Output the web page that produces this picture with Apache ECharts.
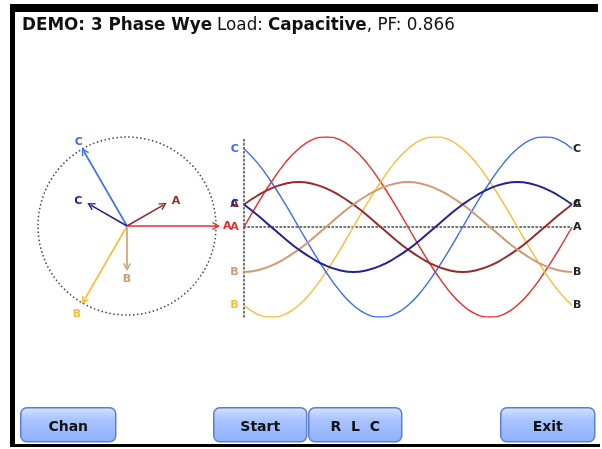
<!DOCTYPE html>
<html>
<head>
<meta charset="utf-8">
<script src="https://cdn.jsdelivr.net/npm/echarts@6/dist/echarts.min.js"></script>
<style>
  html, body { margin: 0; padding: 0; background: #fff; }
  #main { width: 602px; height: 449px; }
</style>
</head>
<body>
<div id="main"></div>
<script>
// phase angle along the waveform window (deg)
var degs = [0,15,30,45,60,75,90,105,120,135,150,165,180,195,210,225,240,255,270,285,300,315,330,345,360];

// voltages (peak ~100)
var vA = [0,26,50,71,87,97,100,97,87,71,50,26,0,-26,-50,-71,-87,-97,-100,-97,-87,-71,-50,-26,0];
var vB = [-87,-97,-100,-97,-87,-71,-50,-26,0,26,50,71,87,97,100,97,87,71,50,26,0,-26,-50,-71,-87];
var vC = [87,71,50,26,0,-26,-50,-71,-87,-97,-100,-97,-87,-71,-50,-26,0,26,50,71,87,97,100,97,87];
// currents (peak ~50)
var iA = [25,35,43,48,50,48,43,35,25,13,0,-13,-25,-35,-43,-48,-50,-48,-43,-35,-25,-13,0,13,25];
var iB = [-50,-48,-43,-35,-25,-13,0,13,25,35,43,48,50,48,43,35,25,13,0,-13,-25,-35,-43,-48,-50];
var iC = [25,13,0,-13,-25,-35,-43,-48,-50,-48,-43,-35,-25,-13,0,13,25,35,43,48,50,48,43,35,25];

// phasors
var phasorNames = ['A','B','C','A','B','C'];
var phasorMag   = [100, 97, 97, 47, 46, 47];
var phasorAngle = [0, 240, 120, 30, 270, 150];
var phasorColor = ['#ee2a2a','#ffbb33','#3a6cff','#992a2a','#d29a6e','#22229a'];
var phasorLabelPos = ['right','bottom','top','right','bottom','left'];
var phasorLabelOff = [[-2,0],[-7,-3],[-5,7],[-2,-4],[0,-2],[2,-4]];

var waveNames  = ['A','B','C','A','B','C'];
var waveValues = [vA, vB, vC, iA, iB, iC];
var waveColor  = ['#ee2a2a','#ffbb33','#3a6cff','#992a2a','#d29a6e','#22229a'];
var waveWidth  = [1.4, 1.4, 1.4, 2, 2, 2];

var myChart = echarts.init(document.getElementById('main'));
var arrowPath = 'path://M0,8 L5,0 L10,8 L8.6,9 L5,3.4 L1.4,9 Z';
var dotted = { color: '#444', type: [1.5, 2.5], width: 1.5 };

var series = [];

phasorNames.forEach(function(name, i){
	series.push({
		type: 'line',
		coordinateSystem: 'polar',
		silent: true,
		animation: false,
		lineStyle: { color: phasorColor[i], width: 1.6 },
		itemStyle: { color: phasorColor[i] },
		data: [
			{ value: [0, phasorAngle[i]], symbol: 'none' },
			{
				value: [phasorMag[i], phasorAngle[i]],
				symbol: arrowPath,
				symbolSize: [8, 8],
				symbolRotate: phasorAngle[i] - 90,
				label: {
					show: true,
					formatter: name,
					position: phasorLabelPos[i],
					offset: phasorLabelOff[i],
					color: phasorColor[i],
					fontFamily: 'DejaVu Sans',
					fontWeight: 'bold',
					fontSize: 11
				}
			}
		]
	});
});

waveNames.forEach(function(name, i){
	var vals = waveValues[i];
	var data = degs.map(function(d, k){
		if (k == 0) {
			return {
				value: [d, vals[k]],
				label: {
					show: true, formatter: name, position: 'left', distance: 5,
					color: waveColor[i], fontFamily: 'DejaVu Sans', fontWeight: 'bold', fontSize: 11
				}
			};
		}
		return [d, vals[k]];
	});
	series.push({
		type: 'line',
		xAxisIndex: 0,
		yAxisIndex: 0,
		smooth: true,
		showSymbol: true,
		symbol: 'circle',
		symbolSize: 0.5,
		silent: true,
		animation: false,
		lineStyle: { color: waveColor[i], width: waveWidth[i] },
		itemStyle: { color: waveColor[i] },
		endLabel: {
			show: true, formatter: name, distance: 1,
			color: '#222', fontFamily: 'DejaVu Sans', fontWeight: 'bold', fontSize: 11
		},
		data: data
	});
});

function button(x, w, text) {
	return {
		type: 'group',
		left: x,
		top: 407,
		children: [
			{
				type: 'rect',
				shape: { x: 0, y: 0, width: w, height: 34, r: 6 },
				style: {
					fill: {
						type: 'linear', x: 0, y: 0, x2: 0, y2: 1,
						colorStops: [
							{ offset: 0, color: '#d6e4ff' },
							{ offset: 0.35, color: '#a9c4ff' },
							{ offset: 1, color: '#8eb0fa' }
						]
					},
					stroke: '#5d7fcf',
					lineWidth: 1.5
				}
			},
			{
				type: 'text',
				x: w / 2,
				y: 20,
				style: {
					text: text,
					fill: '#111',
					font: 'bold 14px "DejaVu Sans"',
					align: 'center',
					verticalAlign: 'middle'
				}
			}
		]
	};
}

var option = {
	backgroundColor: '#fff',
	title: {
		text: '{b|DEMO: 3 Phase Wye} {n|Load:} {b|Capacitive}{n|, PF: 0.866}',
		left: 17,
		top: 12,
		textStyle: {
			rich: {
				b: { fontFamily: 'DejaVu Sans', fontWeight: 'bold', fontSize: 16.8, color: '#111' },
				n: { fontFamily: 'DejaVu Sans', fontWeight: 'normal', fontSize: 16.8, color: '#111' }
			}
		}
	},
	polar: { center: [127, 226], radius: 89 },
	angleAxis: {
		type: 'value', min: 0, max: 360, startAngle: 0, clockwise: false,
		axisLine: { show: true, lineStyle: dotted },
		axisTick: { show: false },
		axisLabel: { show: false },
		splitLine: { show: false }
	},
	radiusAxis: {
		type: 'value', min: 0, max: 100,
		axisLine: { show: false },
		axisTick: { show: false },
		axisLabel: { show: false },
		splitLine: { show: false }
	},
	grid: { left: 244, top: 137, width: 328, height: 180 },
	xAxis: {
		type: 'value', min: 0, max: 360,
		axisLine: { show: true, onZero: true, lineStyle: dotted },
		axisTick: { show: false },
		axisLabel: { show: false },
		splitLine: { show: false }
	},
	yAxis: {
		type: 'value', min: -100, max: 100,
		axisLine: { show: true, onZero: false, lineStyle: dotted },
		axisTick: { show: false },
		axisLabel: { show: false },
		splitLine: { show: false }
	},
	graphic: [
		// screen frame
		{ type: 'rect', shape: { x: 10, y: 4, width: 5, height: 443 }, style: { fill: '#000' } },
		{ type: 'rect', shape: { x: 10, y: 4, width: 588, height: 8 }, style: { fill: '#000' } },
		{ type: 'rect', shape: { x: 10, y: 444, width: 590, height: 3 }, style: { fill: '#000' } },
		button(20, 95, 'Chan'),
		button(213, 93, 'Start'),
		button(308, 93, 'R  L  C'),
		button(500, 94, 'Exit')
	],
	series: series
};

myChart.setOption(option);
window.onresize = myChart.resize;
</script>
</body>
</html>
